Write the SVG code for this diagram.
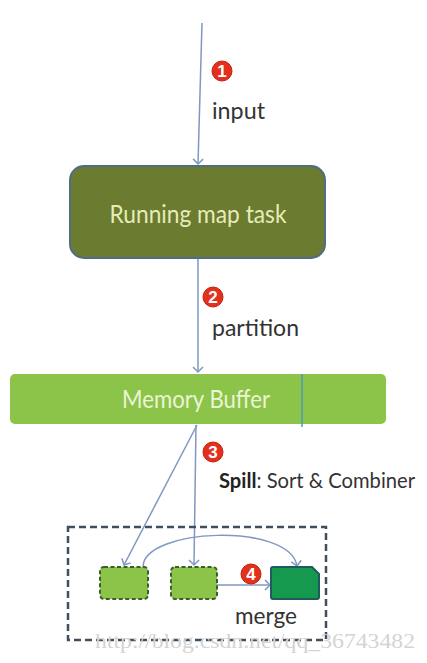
<svg xmlns="http://www.w3.org/2000/svg" width="427" height="663" viewBox="0 0 427 663">
<style>
.lbl{font-family:Lato,"Open Sans","Liberation Sans",sans-serif;fill:#333333}
.conn{stroke:#7f98c2;stroke-width:1.5;fill:none}
.badge circle{fill:#e3301c;stroke:#c42010;stroke-width:1}
.badge text{font-family:"Liberation Sans",sans-serif;font-weight:bold;font-size:17px;fill:#ffffff;text-anchor:middle}
.spill{stroke:#3b5f2c;stroke-width:2;stroke-dasharray:4 2.5;fill:#8cc449}
</style>
<defs>
<marker id="ah" markerWidth="12" markerHeight="12" refX="6" refY="6" orient="auto" markerUnits="userSpaceOnUse" viewBox="0 0 12 12">
<path d="M1,1 L6,6 L1,11" fill="none" stroke="#7f98c2" stroke-width="1.5"/>
</marker>
</defs>
<rect width="427" height="663" fill="#ffffff"/>

<g id="connectors">
<path class="conn" d="M202,23 L198,164" marker-end="url(#ah)"/>
<path class="conn" d="M198,259 L198,372" marker-end="url(#ah)"/>
<path class="conn" d="M197,425 L124,565" marker-end="url(#ah)"/>
<path class="conn" d="M196,425 L194,565" marker-end="url(#ah)"/>
<path class="conn" d="M143,567 C143,528 290,522 297,566" marker-end="url(#ah)"/>
<path class="conn" d="M217,585 L270,585" marker-end="url(#ah)"/>
</g>

<g id="map-task">
<rect x="70" y="166" width="255" height="92" rx="14" fill="#6b7b30" stroke="#4f6d84" stroke-width="2"/>
<text x="198" y="223" font-family="Lato,'Open Sans','Liberation Sans',sans-serif" font-size="25" fill="#e6ecb8" text-anchor="middle" textLength="177" lengthAdjust="spacingAndGlyphs">Running map task</text>
</g>

<g id="memory-buffer">
<rect x="10" y="374" width="376" height="50" rx="5" fill="#8cc449"/>
<line x1="302" y1="374" x2="302" y2="427" stroke="#4a9ab8" stroke-width="1.5"/>
<text x="196" y="408" font-family="Lato,'Open Sans','Liberation Sans',sans-serif" font-size="25" fill="#eaf5d6" text-anchor="middle" textLength="148" lengthAdjust="spacingAndGlyphs">Memory Buffer</text>
</g>

<g id="spill-area">
<rect x="68" y="527" width="258" height="113" fill="none" stroke="#404f5d" stroke-width="2.5" stroke-dasharray="7 4"/>
</g>

<g id="spill-file-1">
<rect x="100" y="567" width="48" height="32" rx="4" class="spill"/>
</g>
<g id="spill-file-2">
<rect x="171" y="567" width="46" height="32" rx="4" class="spill"/>
</g>
<g id="merged-file">
<path d="M273,567 L312,567 L319,574 L319,597 Q319,599 317,599 L273,599 Q271,599 271,597 L271,569 Q271,567 273,567 Z" fill="#15994f" stroke="#1e5a5e" stroke-width="2"/>
</g>

<g id="badge-1" class="badge"><circle cx="222" cy="71" r="10"/><text x="222" y="77">1</text></g>
<g id="badge-2" class="badge"><circle cx="213" cy="297" r="10"/><text x="213" y="303">2</text></g>
<g id="badge-3" class="badge"><circle cx="213" cy="452" r="10"/><text x="213" y="458">3</text></g>
<g id="badge-4" class="badge"><circle cx="251" cy="574" r="10"/><text x="251" y="580">4</text></g>

<g id="labels">
<text class="lbl" x="212" y="119" font-size="23" textLength="53" lengthAdjust="spacingAndGlyphs">input</text>
<text class="lbl" x="212" y="336" font-size="23" textLength="87" lengthAdjust="spacingAndGlyphs">partition</text>
<text class="lbl" x="219" y="488" font-size="21" textLength="196" lengthAdjust="spacingAndGlyphs"><tspan font-weight="bold" fill="#222">Spill</tspan>: Sort &amp; Combiner</text>
<text class="lbl" x="235" y="624" font-size="24" textLength="62" lengthAdjust="spacingAndGlyphs">merge</text>
</g>

<text x="95" y="648" font-family="'Liberation Serif',serif" font-size="20" fill="#d4d4d4" textLength="320" lengthAdjust="spacingAndGlyphs">http://blog.csdn.net/qq_36743482</text>
</svg>
